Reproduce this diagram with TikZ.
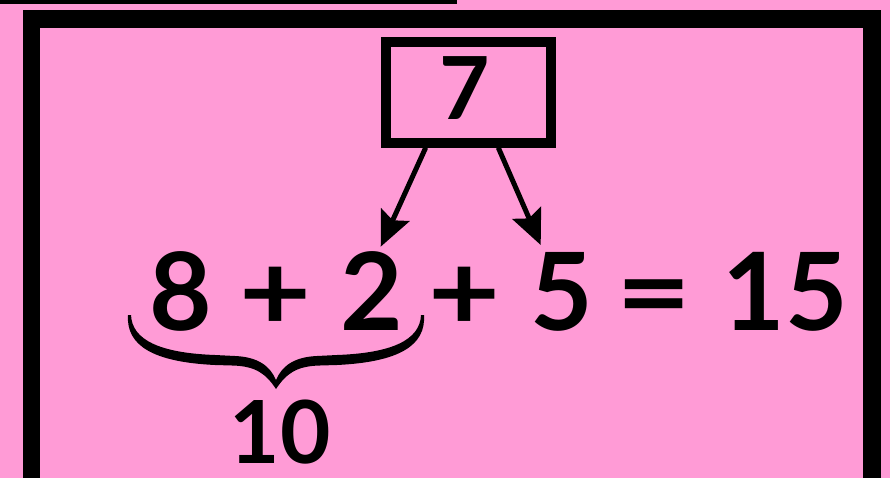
\documentclass[tikz,border=0pt]{standalone}
\usepackage{fontspec}
\setmainfont{Lato}
\usetikzlibrary{arrows.meta}
\definecolor{bg}{HTML}{FF9BD6}
\begin{document}
\begin{tikzpicture}[x=1pt,y=-1pt,
  big/.style={inner sep=0pt, anchor=base, text depth=0pt, font=\fontsize{108}{108}\selectfont\bfseries},
  mid/.style={inner sep=0pt, anchor=base, text depth=0pt, font=\fontsize{87}{87}\selectfont\bfseries},
  arr/.style={line width=5pt, -{Stealth[length=35pt,width=31pt,inset=6pt]}},
  frame/.style={line width=17.5pt, line join=miter}]
\useasboundingbox (0,0) rectangle (890,478);
\clip (0,0) rectangle (890,478);
\fill[bg] (0,0) rectangle (890,478);
\fill[black] (0,0) rectangle (457,4);
\draw[frame] (31.5,520) -- (31.5,19) -- (872,19) -- (872,520);
% top box
\node[draw, line width=10pt, minimum width=165pt, minimum height=100.7pt, inner sep=0pt] (box) at (468.5,92.3) {};
\node[mid] (seven) at (465,120) {7};
% equation
\node[big] (n8) at (180.5,330) {8};
\node[big] (p1) at (275.4,330) {\scalebox{1.15}[1]{+}};
\node[big] (n2) at (371.5,330) {2};
\node[big] (p2) at (465,330) {\scalebox{1.15}[1]{+}};
\node[big] (n5) at (561.5,330) {5};
\node[big] (eq) at (654,330) {\scalebox{1.2}[1]{=}};
\node[big] (n15) at (785,330) {15};
\node[mid] (n10) at (280,463) {10};
% arrows
\coordinate (tipL) at (380.7,246.7);
\coordinate (tipR) at (540.7,245);
\draw[arr] ([xshift=-42.8pt]box.south) -- (tipL);
\draw[arr] ([xshift=29.8pt]box.south) -- (tipR);
% brace
\fill[black] (131,315) .. controls (132,340) and (160,353) .. (215,355)
  -- (235,356) .. controls (258,357) and (270,366) .. (276,380)
  .. controls (282,366) and (294,357) .. (317,356)
  -- (337,355) .. controls (392,353) and (420,340) .. (421,315)
  -- (424,315) .. controls (426,345) and (400,362) .. (337,365)
  -- (320,365.5) .. controls (296,366) and (286,374) .. (276,389)
  .. controls (266,374) and (256,366) .. (232,365.5)
  -- (215,365) .. controls (152,362) and (126,345) .. (128,315) -- cycle;
\end{tikzpicture}
\end{document}
